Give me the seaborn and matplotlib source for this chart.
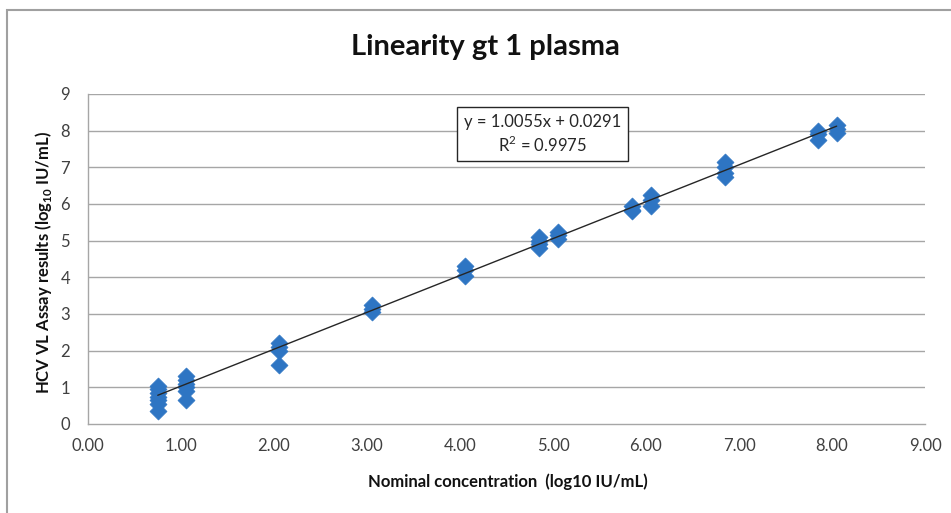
import matplotlib
matplotlib.use("Agg")
import matplotlib.pyplot as plt
import seaborn as sns
import pandas as pd
from matplotlib.patches import Rectangle

# Nominal concentration levels and measured assay results (log10 IU/mL)
nominal = [0.75] * 7 + [1.05] * 6 + [2.05] * 4 + [3.05] * 3 + [4.05] * 3 + \
          [4.85] * 4 + [5.05] * 3 + [5.85] * 3 + [6.05] * 3 + [6.85] * 4 + \
          [7.85] * 3 + [8.05] * 3
measured = [1.05, 0.95, 0.85, 0.75, 0.65, 0.55, 0.35,
            1.30, 1.20, 1.10, 1.00, 0.90, 0.65,
            2.20, 2.10, 2.00, 1.60,
            3.25, 3.15, 3.05,
            4.30, 4.20, 4.05,
            5.10, 5.00, 4.90, 4.80,
            5.25, 5.15, 5.05,
            5.95, 5.85, 5.80,
            6.25, 6.10, 5.95,
            7.15, 7.00, 6.85, 6.75,
            8.00, 7.90, 7.75,
            8.15, 8.05, 7.95]

slope = 1.0055
intercept = 0.0291
r_squared = 0.9975

x_ticks = [0, 1, 2, 3, 4, 5, 6, 7, 8, 9]
y_ticks = [0, 1, 2, 3, 4, 5, 6, 7, 8, 9]

df = pd.DataFrame({"nominal": nominal, "measured": measured})

sns.set_style("white")
plt.rcParams["font.family"] = ["Lato", "DejaVu Sans"]
plt.rcParams["mathtext.fontset"] = "custom"
plt.rcParams["mathtext.rm"] = "Lato"
plt.rcParams["mathtext.bf"] = "Lato:bold"

fig = plt.figure(figsize=(9.51, 5.13), dpi=100)
ax = fig.add_axes([88 / 951, 1 - 424 / 513, (925 - 88) / 951, (424 - 94) / 513])

grid_col = "#a6a6a6"
for yv in y_ticks[1:]:
    ax.axhline(yv, color=grid_col, lw=1.0, zorder=0)

sns.scatterplot(data=df, x="nominal", y="measured", marker="D", s=75,
                color="#2e75c3", edgecolor="#2e75c3", linewidth=0.5,
                ax=ax, zorder=3, legend=False)

# Linear trendline over the range of the data
x0, x1 = min(nominal), max(nominal)
ax.plot([x0, x1], [slope * x0 + intercept, slope * x1 + intercept],
        color="#262626", lw=1.0, zorder=4)

ax.set_xlim(0, 9)
ax.set_ylim(0, 9)
ax.set_xticks(x_ticks)
ax.set_xticklabels([f"{v:.2f}" for v in x_ticks])
ax.set_yticks(y_ticks)
ax.set_yticklabels([str(v) for v in y_ticks])
ax.tick_params(axis="both", labelsize=12, colors="#404040", length=5,
               width=1, direction="out", color=grid_col)
ax.tick_params(axis="x", pad=5)
ax.tick_params(axis="y", pad=8)
for side in ["top", "right"]:
    ax.spines[side].set_visible(False)
for side in ["left", "bottom"]:
    ax.spines[side].set_color(grid_col)
    ax.spines[side].set_linewidth(1.0)
ax.set_xlabel("")
ax.set_ylabel("")

# Trendline equation box
ax.text(4.89, 7.9,
        f"y = {slope:.4f}x + {intercept:.4f}\nR$^2$ = {r_squared:.4f}",
        ha="center", va="center", fontsize=12, color="#262626",
        linespacing=1.25, zorder=6,
        bbox=dict(boxstyle="square,pad=0.4", facecolor="white",
                  edgecolor="#262626", linewidth=1.0))

fig.text(485 / 951, 1 - 47 / 513, "Linearity gt 1 plasma", ha="center",
         va="center", fontsize=21, fontweight="bold", color="#111111")
fig.text(508 / 951, 1 - 482 / 513, "Nominal concentration  (log10 IU/mL)",
         ha="center", va="center", fontsize=12, fontweight="bold",
         color="#111111")
fig.text(44 / 951, 1 - 262 / 513,
         r"HCV VL Assay results (log$_{\mathbf{10}}$ IU/mL)",
         ha="center", va="center", rotation=90, fontsize=12,
         fontweight="bold", color="#111111")

# Chart area frame
fig.patches.append(Rectangle((7 / 951, -0.1), 1.2, 1 - 10 / 513 + 0.1,
                             transform=fig.transFigure, fill=False,
                             edgecolor="#a0a0a0", linewidth=1.5))

fig.savefig("out.png", dpi=100)
